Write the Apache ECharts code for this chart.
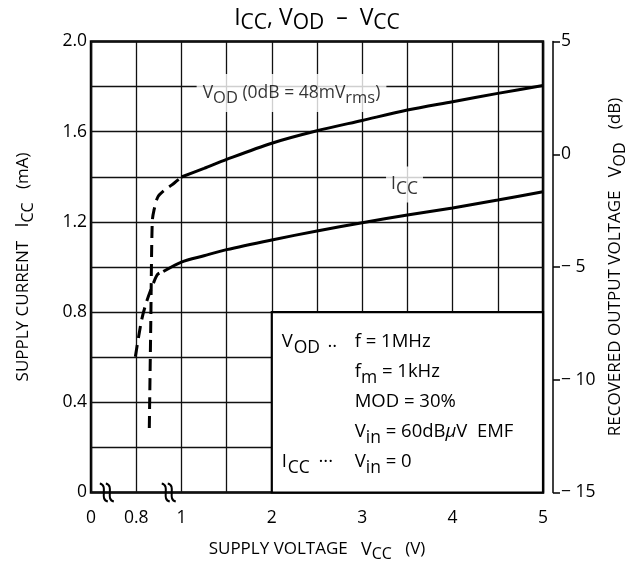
<!DOCTYPE html>
<html><head><meta charset="utf-8">
<script src="https://cdn.jsdelivr.net/npm/echarts@6/dist/echarts.min.js"></script>
<style>html,body{margin:0;padding:0;background:#fff}#c{width:634px;height:563px}</style>
</head><body><div id="c"></div>
<script>
// ---- data (supply voltage in V) ----
const xTickVolts = [0, 0.8, 1, 2, 3, 4, 5];
const xTickLabels = ['0', '0.8', '1', '2', '3', '4', '5'];
const iccTicks = [0, 0.4, 0.8, 1.2, 1.6, 2.0];
const iccTickLabels = ['0', '0.4', '0.8', '1.2', '1.6', '2.0'];
const vodTicks = [-15, -10, -5, 0, 5];
const vodTickLabels = ['\u2212 15', '\u2212 10', '\u2212 5', '0', '5'];

const iccDashedV  = [0.785, 0.824, 0.846, 0.876, 0.895, 0.92];
const iccDashedMA = [0.602, 0.765, 0.846, 0.928, 0.968, 0.98];
const iccSolidV   = [0.92, 1.0, 1.25, 1.5, 2, 2.5, 3, 3.5, 4, 4.5, 5];
const iccSolidMA  = [0.98, 1.022, 1.050, 1.077, 1.12, 1.16, 1.196, 1.231, 1.262, 1.297, 1.334];

const vodDashedV  = [0.858, 0.8645, 0.871, 0.879, 0.896, 0.927, 0.958, 1.0];
const vodDashedDB = [-12.14, -7.5, -3.0, -2.47, -1.89, -1.58, -1.36, -1.01];
const vodSolidV   = [1.0, 1.25, 1.5, 2, 2.5, 3, 3.5, 4, 4.5, 5];
const vodSolidDB  = [-1.01, -0.63, -0.23, 0.49, 1.04, 1.5, 1.96, 2.33, 2.70, 3.05];

const breakVolts = [0.28, 0.944];

// broken voltage axis: 0..0.8 -> 0..1, 0.8..1 -> 1..2, 1..5 -> 2..10
function vToPos(v) {
  if (v <= 0.8) return v / 0.8;
  if (v <= 1) return 1 + (v - 0.8) / 0.2;
  return 2 + (v - 1) * 2;
}
function pairs(xs, ys) { return xs.map((x, i) => [vToPos(x), ys[i]]); }
function lookup(ticks, labels, v) {
  for (let i = 0; i < ticks.length; i++) if (Math.abs(ticks[i] - Number(v)) < 1e-6) return labels[i];
  return '';
}
const xTickPos = xTickVolts.map(vToPos);

const FF = 'Open Sans';
const sub = (fs) => ({ fontSize: fs, lineHeight: fs, verticalAlign: 'bottom', fontFamily: FF, color: '#000', fontWeight: 'normal' });
const main = (fs, lh) => ({ fontSize: fs, lineHeight: lh, verticalAlign: 'middle', fontFamily: FF, color: '#000', fontWeight: 'normal' });
const W = (o, w) => Object.assign(o, { width: w });

const chart = echarts.init(document.getElementById('c'), null, { renderer: 'canvas' });
const lineW = 3;
const TF = 17.5;
const BF = 18.5;
chart.setOption({
  animation: false,
  backgroundColor: '#fff',
  title: {
    text: '{m|I}{s|CC}{m|, V}{s|OD}{m|  \u2013  V}{s|CC}',
    left: 'center', top: -3,
    textStyle: { fontWeight: 'normal', rich: { m: main(23, 32), s: sub(21) } }
  },
  grid: { left: 91, right: 91, top: 41.5, bottom: 70.5, show: true, borderColor: '#000', borderWidth: 2.5,
    backgroundColor: 'transparent', containLabel: false, outerBoundsMode: 'none' },
  xAxis: {
    type: 'value', min: 0, max: 10, interval: 1,
    axisLine: { show: false }, axisTick: { show: false },
    splitLine: { show: true, lineStyle: { color: '#111', width: 1.3 } },
    axisLabel: { margin: 17, fontSize: TF, fontFamily: FF, color: '#000',
      formatter: v => lookup(xTickPos, xTickLabels, v) },
    name: 'SUPPLY VOLTAGE   {m|V}{s|CC}   (V)',
    nameLocation: 'middle', nameGap: 44,
    nameTextStyle: { fontSize: 17, fontFamily: FF, color: '#000', rich: { m: main(18, 26), s: sub(16) } }
  },
  yAxis: [{
    type: 'value', min: 0, max: 2, interval: 0.2,
    axisLine: { show: false }, axisTick: { show: false },
    splitLine: { show: true, lineStyle: { color: '#111', width: 1.3 } },
    axisLabel: { margin: 4, fontSize: TF, fontFamily: FF, color: '#000',
      formatter: v => lookup(iccTicks, iccTickLabels, v) },
    name: 'SUPPLY CURRENT   {m|I}{s|CC}   (mA)',
    nameLocation: 'middle', nameGap: 55, nameRotate: 90,
    nameTextStyle: { fontSize: 17, fontFamily: FF, color: '#000', rich: { m: main(18, 26), s: sub(16) } }
  }, {
    type: 'value', position: 'right', offset: 10, min: -15, max: 5, interval: 5,
    axisLine: { show: true, lineStyle: { color: '#000', width: 1.5 } },
    axisTick: { show: true, inside: false, length: 7, lineStyle: { color: '#000', width: 1.5 } },
    splitLine: { show: false },
    axisLabel: { margin: 8, fontSize: TF, fontFamily: FF, color: '#000',
      formatter: v => '{n|' + lookup(vodTicks, vodTickLabels, v) + '}',
      rich: { n: { fontSize: TF, fontFamily: FF, color: '#000' } } },
    name: 'RECOVERED OUTPUT VOLTAGE   {m|V}{s|OD}   (dB)',
    nameLocation: 'middle', nameGap: 38, nameRotate: 90,
    nameTextStyle: { fontSize: 17, fontFamily: FF, color: '#000', rich: { m: main(18, 26), s: sub(16) } }
  }],
  series: [
    {
      name: 'box', type: 'line', data: [], yAxisIndex: 0, z: 3,
      markArea: {
        silent: true,
        itemStyle: { color: '#fff', borderColor: '#000', borderWidth: 2.2 },
        label: {
          show: true, position: 'insideTopLeft', distance: 0, padding: [16, 0, 0, 11],
          formatter: [
            '{v|V}{vs|OD}{d| ..}{c|f = 1MHz}',
            '{sp| }{c|f}{cs|m}{c| = 1kHz}',
            '{sp| }{c|MOD = 30%}',
            '{sp| }{c|V}{cs|in}{c| = 60dB}{mu|\u03bc}{c|V  EMF}',
            '{i|I}{is|CC}{d2| \u00b7\u00b7\u00b7}{c|V}{cs|in}{c| = 0}'
          ].join('\n'),
          rich: {
            v: W(main(BF, 30), 12),
            vs: W(sub(BF - 1), 29),
            d: W(main(BF, 30), 32),
            i: W(main(BF, 30), 6),
            is: W(sub(BF - 1), 26),
            d2: W(main(BF, 30), 41),
            sp: W(main(BF, 30), 73),
            c: main(BF, 30),
            cs: sub(BF - 1),
            mu: Object.assign(main(BF, 30), { fontStyle: 'italic' })
          }
        },
        data: [[{ coord: [vToPos(2), 0] }, { coord: [vToPos(5), 0.8] }]]
      }
    },
    {
      name: 'ICC dashed', type: 'line', yAxisIndex: 0, data: pairs(iccDashedV, iccDashedMA),
      showSymbol: false, smooth: 0.3, z: 4,
      lineStyle: { color: '#000', width: lineW, type: [12, 7] }
    },
    {
      name: 'ICC', type: 'line', yAxisIndex: 0, data: pairs(iccSolidV, iccSolidMA),
      showSymbol: false, smooth: 0.3, z: 4,
      lineStyle: { color: '#000', width: lineW }
    },
    {
      name: 'VOD dashed', type: 'line', yAxisIndex: 1, data: pairs(vodDashedV, vodDashedDB),
      showSymbol: false, smooth: 0.3, z: 4,
      lineStyle: { color: '#000', width: lineW, type: [12, 7] }
    },
    {
      name: 'VOD', type: 'line', yAxisIndex: 1, data: pairs(vodSolidV, vodSolidDB),
      showSymbol: false, smooth: 0.3, z: 4,
      lineStyle: { color: '#000', width: lineW }
    },
    {
      name: 'labels', type: 'scatter', yAxisIndex: 0, symbolSize: 0, silent: true, z: 5,
      data: [
        { value: [vToPos(2.218), 1.772], label: {
          show: true, position: 'inside', backgroundColor: '#fff', padding: [5, 6, 5, 6],
          formatter: '{m|V}{s|OD}{m| (0dB = 48mV}{s|rms}{m|)}',
          rich: { m: main(17.5, 28), s: sub(16.5) } } },
        { value: [vToPos(3.468), 1.366], label: {
          show: true, position: 'inside', backgroundColor: '#fff', padding: [4, 5, 4, 5],
          formatter: '{m|I}{s|CC}',
          rich: { m: main(17.5, 28), s: sub(17.5) } } }
      ]
    },
    {
      name: 'breaks', type: 'custom', xAxisIndex: 0, yAxisIndex: 0, clip: false, silent: true, z: 6,
      data: breakVolts.map(v => [vToPos(v), 0]),
      renderItem: function (params, api) {
        const p = api.coord([api.value(0), api.value(1)]);
        const s = (dx) => ({
          type: 'bezierCurve',
          shape: { x1: dx - 4, y1: -9, cpx1: dx + 5, cpy1: -7, cpx2: dx - 5, cpy2: 7, x2: dx + 4, y2: 9 },
          style: { stroke: '#000', lineWidth: 2, fill: null }
        });
        return { type: 'group', x: p[0], y: p[1], children: [s(-3), s(3)] };
      }
    }
  ]
});
</script></body></html>
